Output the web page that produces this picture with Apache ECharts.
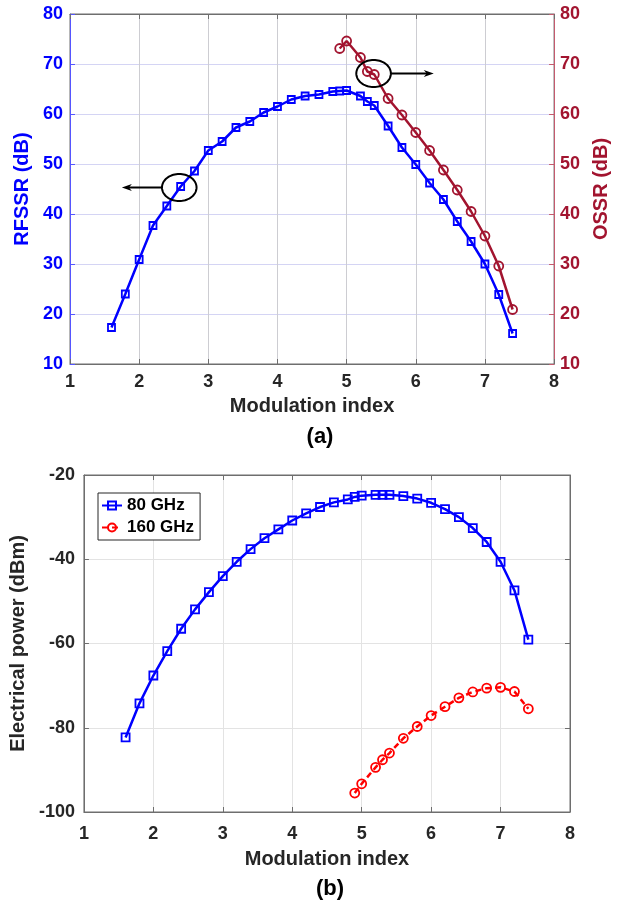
<!DOCTYPE html>
<html>
<head>
<meta charset="utf-8">
<script src="https://cdn.jsdelivr.net/npm/echarts@6/dist/echarts.min.js"></script>
<style>
html,body{margin:0;padding:0;background:#fff;}
#c{width:619px;height:903px;}
</style>
</head>
<body>
<div id="c"></div>
<script>
// ---- Data ----
const modIndexA = [1.6,1.8,2.0,2.2,2.4,2.6,2.8,3.0,3.2,3.4,3.6,3.8,4.0,4.2,4.4,4.6,4.8,4.9,5.0,5.2,5.3,5.4,5.6,5.8,6.0,6.2,6.4,6.6,6.8,7.0,7.2,7.4];
const rfssr = [17.3,24.0,30.9,37.7,41.6,45.5,48.6,52.7,54.5,57.3,58.5,60.3,61.5,62.9,63.6,63.9,64.5,64.6,64.7,63.6,62.5,61.7,57.6,53.3,49.9,46.2,42.9,38.5,34.5,30.0,23.9,16.1];
const modIndexB = [4.9,5.0,5.2,5.3,5.4,5.6,5.8,6.0,6.2,6.4,6.6,6.8,7.0,7.2,7.4];
const ossr = [73.1,74.6,71.3,68.5,67.9,63.1,59.8,56.3,52.7,48.8,44.8,40.5,35.6,29.6,20.9];
const power80 = [-82.3,-74.2,-67.6,-61.8,-56.5,-51.9,-47.8,-44.0,-40.6,-37.6,-35.0,-32.9,-30.8,-29.1,-27.6,-26.5,-25.8,-25.2,-24.9,-24.7,-24.7,-24.7,-25.0,-25.6,-26.6,-28.1,-30.0,-32.6,-35.9,-40.6,-47.4,-59.1];
const power160 = [-95.5,-93.3,-89.4,-87.6,-86.0,-82.5,-79.7,-77.1,-75.0,-72.9,-71.5,-70.6,-70.4,-71.4,-75.5];
const xTicks = [1,2,3,4,5,6,7,8];
const seriesNamesB = ['80 GHz','160 GHz'];
// annotation ellipses: [centerX, centerY, radiusX, radiusY, arrowStartX, arrowEndX]
const annotations = [
  [2.58, 45.3, 0.25, 2.7, 2.33, 1.75],
  [5.39, 68.1, 0.25, 2.7, 5.64, 6.26]
];

const FF = '"Liberation Sans", Arial, Helvetica, sans-serif';
const DARK = '#262626';
const BLUE = '#0000ff';
const MAROON = '#a2142f';
const RED = '#ff0000';
const BOX = '#6e6e6e';

function pairs(xs, ys){ return xs.map((x,i)=>[x, ys[i]]); }
function txt(color, size){ return {color:color, fontSize:size, fontWeight:'bold', fontFamily:FF}; }

const chart = echarts.init(document.getElementById('c'), null, {renderer:'canvas'});

const xAxisCommon = (grid) => ({
  gridIndex: grid, type:'value', min: xTicks[0], max: xTicks[xTicks.length-1], interval:1,
  axisLine:{show:true, onZero:false, lineStyle:{color:BOX, width:1}},
  axisTick:{show:true, inside:true, length:5, lineStyle:{color:BOX}},
  axisLabel:Object.assign({margin: grid===0 ? 9 : 13}, txt(DARK,18)),
  splitLine:{show:true, lineStyle:{color: grid===0 ? '#cdcdd2' : '#e3e3e3', width:1}},
  name:'Modulation index', nameLocation:'middle', nameGap: grid===0 ? 32 : 37,
  nameTextStyle: txt(DARK,20)
});
const frameX = (grid) => ({
  gridIndex: grid, type:'value', position:'top', min: xTicks[0], max: xTicks[xTicks.length-1], interval:1,
  axisLine:{show:true, onZero:false, lineStyle:{color:BOX, width:1}},
  axisTick:{show:true, inside:true, length:5, lineStyle:{color:BOX}},
  axisLabel:{show:false}, splitLine:{show:false}
});

const option = {
  animation:false,
  backgroundColor:'#ffffff',
  title:[
    {text:'(a)', left:315, top:421, textAlign:'center', textStyle:txt('#000',22)},
    {text:'(b)', left:325, top:873, textAlign:'center', textStyle:txt('#000',22)}
  ],
  grid:[
    {left:70, top:14, width:490, height:350, show:true, borderColor:BOX, borderWidth:1, backgroundColor:'#fff'},
    {left:81, top:475, width:489, height:337, show:true, borderColor:BOX, borderWidth:1, backgroundColor:'#fff'}
  ],
  xAxis:[ xAxisCommon(0), xAxisCommon(1), frameX(0), frameX(1) ],
  yAxis:[
    {gridIndex:0, type:'value', position:'left', min:10, max:80, interval:10,
     axisLine:{show:true, lineStyle:{color:'#5555ff', width:1}},
     axisTick:{show:true, inside:true, length:5, lineStyle:{color:'#5555ff'}},
     axisLabel:Object.assign({margin:7}, txt(BLUE,18)),
     splitLine:{show:true, lineStyle:{color:'#d4d4f4', width:1}},
     name:'RFSSR (dB)', nameLocation:'middle', nameRotate:90, nameGap:37,
     nameTextStyle:txt(BLUE,20)},
    {gridIndex:0, type:'value', position:'right', min:10, max:80, interval:10,
     axisLine:{show:true, lineStyle:{color:'#c45a6e', width:1}},
     axisTick:{show:true, inside:true, length:5, lineStyle:{color:'#c45a6e'}},
     axisLabel:Object.assign({margin:6}, txt(MAROON,18)),
     splitLine:{show:false},
     name:'OSSR (dB)', nameLocation:'middle', nameRotate:90, nameGap:36,
     nameTextStyle:txt(MAROON,20)},
    {gridIndex:1, type:'value', position:'left', min:-100, max:-20, interval:20,
     axisLine:{show:true, lineStyle:{color:BOX, width:1}},
     axisTick:{show:true, inside:true, length:5, lineStyle:{color:BOX}},
     axisLabel:Object.assign({margin:9}, txt(DARK,18)),
     splitLine:{show:true, lineStyle:{color:'#e3e3e3', width:1}},
     name:'Electrical power (dBm)', nameLocation:'middle', nameRotate:90, nameGap:49,
     nameTextStyle:txt(DARK,20)},
    {gridIndex:1, type:'value', position:'right', min:-100, max:-20, interval:20,
     axisLine:{show:true, lineStyle:{color:BOX, width:1}},
     axisTick:{show:true, inside:true, length:5, lineStyle:{color:BOX}},
     axisLabel:{show:false}, splitLine:{show:false}}
  ],
  legend:{
    data:seriesNamesB, orient:'vertical', left:98, top:493,
    backgroundColor:'#fff', borderColor:DARK, borderWidth:1,
    padding:[4,6,4,3], itemGap:5, itemWidth:20, itemHeight:10,
    textStyle:txt('#000',17)
  },
  series:[
    {name:'RFSSR', type:'line', xAxisIndex:0, yAxisIndex:0, data:pairs(modIndexA, rfssr),
     symbol:'rect', symbolSize:7,
     itemStyle:{color:'rgba(255,255,255,0)', borderColor:BLUE, borderWidth:1.8},
     lineStyle:{color:BLUE, width:2.5}, z:10},
    {name:'OSSR', type:'line', xAxisIndex:0, yAxisIndex:1, data:pairs(modIndexB, ossr),
     symbol:'circle', symbolSize:9,
     itemStyle:{color:'rgba(255,255,255,0)', borderColor:MAROON, borderWidth:1.8},
     lineStyle:{color:MAROON, width:2.5}, z:10},
    {name:'annot', type:'custom', xAxisIndex:0, yAxisIndex:0, data:annotations, clip:false, z:12,
     encode:{x:0, y:1},
     renderItem:function(params, api){
       const cx = api.value(0), cy = api.value(1), rx = api.value(2), ry = api.value(3);
       const x0 = api.value(4), x1 = api.value(5);
       const pts = [];
       for (let k=0;k<72;k++){
         const t = k/72*Math.PI*2;
         pts.push(api.coord([cx + rx*Math.cos(t), cy + ry*Math.sin(t)]));
       }
       const a = api.coord([x0, cy]), b = api.coord([x1, cy]);
       const dir = b[0] > a[0] ? 1 : -1;
       const hl = 10, hw = 3.5;
       return {type:'group', children:[
         {type:'polygon', shape:{points:pts}, style:{fill:'none', stroke:'#000', lineWidth:2}},
         {type:'line', shape:{x1:a[0], y1:a[1], x2:b[0]-dir*hl*0.6, y2:b[1]}, style:{stroke:'#000', lineWidth:2}},
         {type:'polygon', shape:{points:[[b[0],b[1]],[b[0]-dir*hl,b[1]-hw],[b[0]-dir*hl*0.7,b[1]],[b[0]-dir*hl,b[1]+hw]]}, style:{fill:'#000'}}
       ]};
     }},
    {name:'80 GHz', type:'line', xAxisIndex:1, yAxisIndex:2, data:pairs(modIndexA, power80),
     symbol:'rect', symbolSize:8,
     itemStyle:{color:'rgba(255,255,255,0)', borderColor:BLUE, borderWidth:1.8},
     lineStyle:{color:BLUE, width:2.5}, z:10},
    {name:'160 GHz', type:'line', xAxisIndex:1, yAxisIndex:2, data:pairs(modIndexB, power160),
     symbol:'circle', symbolSize:9,
     itemStyle:{color:'rgba(255,255,255,0)', borderColor:RED, borderWidth:1.8},
     lineStyle:{color:RED, width:2.5, type:[6,4]}, z:10}
  ]
};
chart.setOption(option);
</script>
</body>
</html>
